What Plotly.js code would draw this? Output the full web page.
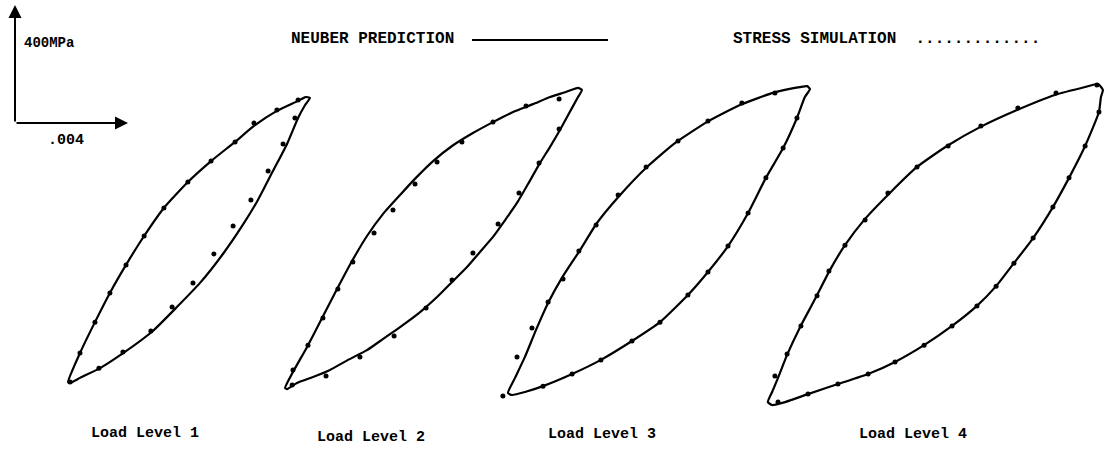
<!DOCTYPE html>
<html>
<head>
<meta charset="utf-8">
<script src="https://cdn.plot.ly/plotly-3.0.1.min.js"></script>
<style>html,body{margin:0;padding:0;background:#fff;}#chart{width:1109px;height:451px;}</style>
</head>
<body>
<div id="chart"></div>
<script>
// Units: strain in 1e-4 (scale bar .004 = 40), stress in MPa (scale bar = 400)
const scaleStrain = 40;
const scaleStress = 400;

// Neuber prediction (solid line) for each load level
const neuber1X = [18.8,23.0,28.3,33.6,39.3,45.7,52.7,61.2,69.4,77.9,84.6,92.7,100.2,102.8,104.4,102.7,100.2,96.3,91.3,86.0,80.4,73.6,65.5,57.3,48.8,38.9,30.1,23.0,19.5,18.8];
const neuber1Y = [-878,-780,-675,-576,-481,-383,-288,-200,-129,-64,-10,41,75,88,85,61,17,-71,-163,-261,-349,-444,-542,-624,-705,-776,-831,-864,-881,-878];
const neuber2X = [95.6,98.4,103.4,108.7,114.0,119.3,124.6,130.3,136.3,141.9,148.0,154.7,162.1,169.2,176.3,183.4,189.4,195.0,199.3,200.7,199.3,195.8,192.9,189.4,185.8,181.6,177.7,173.5,169.2,164.6,160.0,154.7,149.4,143.4,136.3,130.3,124.6,117.9,111.5,105.5,99.8,96.3,95.6];
const neuber2Y = [-898,-844,-759,-661,-563,-468,-383,-308,-244,-186,-129,-78,-34,3,37,64,88,105,119,112,88,27,-24,-81,-136,-207,-271,-329,-386,-437,-488,-539,-590,-641,-692,-732,-770,-803,-837,-861,-881,-902,-898];
const neuber3X = [174.5,177.0,180.5,184.4,188.7,193.6,200.0,206.0,214.2,223.7,233.6,244.9,256.6,268.3,276.1,280.4,281.4,279.6,276.8,271.9,265.8,259.5,252.4,245.3,238.2,228.3,218.4,207.4,197.2,186.9,180.5,175.9,174.5];
const neuber3Y = [-915,-864,-793,-702,-610,-525,-431,-339,-244,-149,-68,3,61,102,119,125,115,88,17,-85,-186,-305,-417,-505,-583,-675,-739,-803,-851,-892,-912,-922,-915];
const neuber4X = [266.5,268.0,270.1,273.3,277.9,283.2,288.5,293.8,300.9,309.7,319.3,329.9,341.6,354.7,368.1,378.8,383.4,385.1,384.4,383.7,378.8,373.1,367.4,360.4,353.6,347.3,340.5,331.7,321.8,311.5,302.0,291.3,280.7,272.6,268.0,266.5];
const neuber4Y = [-946,-912,-864,-786,-692,-597,-498,-414,-325,-237,-149,-78,-14,44,95,122,132,112,88,37,-78,-186,-285,-390,-475,-553,-620,-688,-753,-810,-851,-885,-919,-946,-956,-946];

// Stress simulation (dotted points) for each load level
const sim1X = [23.0,28.3,33.6,39.3,45.7,52.7,61.2,69.4,77.9,84.6,92.7,100.2,99.1,94.9,89.6,83.5,77.2,70.4,63.0,55.6,48.1,38.2,29.7,19.5];
const sim1Y = [-780,-675,-576,-481,-383,-288,-200,-129,-64,0,44,78,17,-71,-163,-261,-349,-444,-542,-624,-705,-776,-831,-878];
const sim2X = [98.4,103.7,109.0,114.3,119.6,127.1,133.8,141.6,149.4,158.2,169.2,180.9,192.6,192.6,185.5,178.4,171.0,162.1,154.7,145.5,134.2,122.1,110.1,98.1];
const sim2Y = [-837,-753,-661,-563,-471,-373,-295,-207,-132,-64,3,58,81,-20,-136,-237,-342,-441,-532,-627,-722,-793,-858,-888];
const sim3X = [172.7,177.7,183.0,188.7,194.0,199.6,205.7,213.5,223.4,234.7,245.3,257.3,269.0,276.8,271.9,265.8,259.5,252.4,245.3,238.2,228.3,218.4,207.4,197.2,186.9];
const sim3Y = [-925,-793,-695,-607,-529,-434,-346,-244,-149,-61,7,68,102,17,-85,-186,-305,-417,-505,-583,-675,-739,-803,-851,-892];
const sim4X = [269.0,273.3,278.2,283.9,288.1,293.8,300.9,309.0,319.3,330.3,341.9,355.0,368.5,383.0,383.7,378.8,373.1,367.4,360.4,353.6,347.3,340.5,331.7,321.8,311.5,302.0,291.3,280.7,270.1];
const sim4Y = [-858,-783,-688,-586,-502,-414,-329,-237,-149,-78,-10,51,102,129,37,-78,-186,-285,-390,-475,-553,-620,-688,-753,-810,-851,-885,-919,-946];

const levelLabels = ['Load Level 1','Load Level 2','Load Level 3','Load Level 4'];
const legendNeuber = 'NEUBER PREDICTION';
const legendSim = 'STRESS SIMULATION  .............';
const stressLabel = '400MPa';
const strainLabel = '.004';

const neuberX = [neuber1X, neuber2X, neuber3X, neuber4X];
const neuberY = [neuber1Y, neuber2Y, neuber3Y, neuber4Y];
const simX = [sim1X, sim2X, sim3X, sim4X];
const simY = [sim1Y, sim2Y, sim3Y, sim4Y];

const traces = [];
for (let i = 0; i < 4; i++) {
  traces.push({x: neuberX[i], y: neuberY[i], mode: 'lines', type: 'scatter',
    line: {color: '#000', width: 2.2, shape: 'spline', smoothing: 0.5}, hoverinfo: 'skip', showlegend: false});
  traces.push({x: simX[i], y: simY[i], mode: 'markers', type: 'scatter',
    marker: {color: '#000', size: 5}, hoverinfo: 'skip', showlegend: false});
}

const FONT = 'Liberation Mono, Courier New, monospace';
const W = 1109, H = 451;
const px = v => v / W, py = v => 1 - v / H;

const annotations = [
  // scale bar arrows (data coordinates)
  {x: 0, y: scaleStress, ax: 0, ay: 0, xref: 'x', yref: 'y', axref: 'x', ayref: 'y', text: '',
   showarrow: true, arrowhead: 2, arrowsize: 1.3, arrowwidth: 2, arrowcolor: '#000', standoff: 0, startstandoff: 0},
  {x: scaleStrain, y: 0, ax: 0, ay: 0, xref: 'x', yref: 'y', axref: 'x', ayref: 'y', text: '',
   showarrow: true, arrowhead: 2, arrowsize: 1.3, arrowwidth: 2, arrowcolor: '#000', standoff: 0, startstandoff: 0},
  {x: 2.5, y: scaleStress * 0.68, xref: 'x', yref: 'y', text: stressLabel, showarrow: false,
   xanchor: 'left', yanchor: 'middle', font: {family: FONT, size: 14, color: '#000', weight: 'bold'}},
  {x: scaleStrain / 2 - 2, y: -58, xref: 'x', yref: 'y', text: strainLabel, showarrow: false,
   xanchor: 'center', yanchor: 'middle', font: {family: FONT, size: 15, color: '#000', weight: 'bold'}},
  // legend texts
  {x: px(289), y: py(39), xref: 'paper', yref: 'paper', text: legendNeuber, showarrow: false,
   xanchor: 'left', yanchor: 'middle', font: {family: FONT, size: 16, color: '#000', weight: 'bold'}},
  {x: px(731), y: py(39), xref: 'paper', yref: 'paper', text: legendSim, showarrow: false,
   xanchor: 'left', yanchor: 'middle', font: {family: FONT, size: 16, color: '#000', weight: 'bold'}},
];
const labelPos = [[145, 433], [371, 437], [602, 434], [913, 434]];
levelLabels.forEach((t, i) => {
  annotations.push({x: px(labelPos[i][0]), y: py(labelPos[i][1]), xref: 'paper', yref: 'paper', text: t,
    showarrow: false, xanchor: 'center', yanchor: 'middle', font: {family: FONT, size: 15, color: '#000', weight: 'bold'}});
});

const layout = {
  width: W, height: H,
  margin: {l: 0, r: 0, t: 0, b: 0, pad: 0},
  paper_bgcolor: '#fff', plot_bgcolor: '#fff',
  showlegend: false,
  xaxis: {range: [-15 / 2.825, (W - 15) / 2.825], visible: false, fixedrange: true},
  yaxis: {range: [-(H - 123) * 400 / 118, 123 * 400 / 118], visible: false, fixedrange: true},
  annotations: annotations,
  shapes: [
    {type: 'line', xref: 'paper', yref: 'paper', x0: px(472), x1: px(608), y0: py(40), y1: py(40),
     line: {color: '#000', width: 2}}
  ]
};

Plotly.newPlot('chart', traces, layout, {displayModeBar: false, staticPlot: true});
</script>
</body>
</html>
